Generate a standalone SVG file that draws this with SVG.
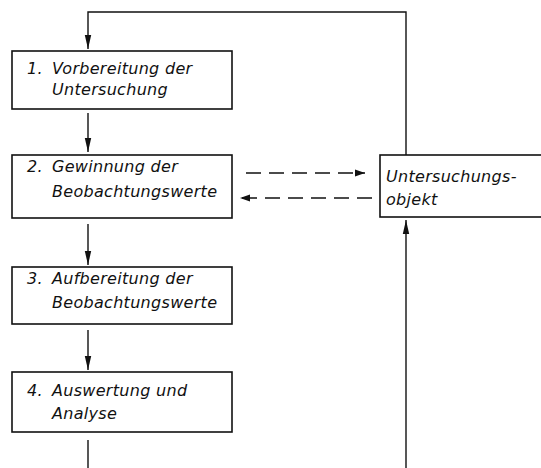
<svg xmlns="http://www.w3.org/2000/svg" width="541" height="468" viewBox="0 0 541 468">
<style>
.box{fill:#fff;stroke:#111;stroke-width:1.6}
.ln{fill:none;stroke:#111;stroke-width:1.4}
.dash{fill:none;stroke:#111;stroke-width:1.4;stroke-dasharray:15,8}
text{font-family:"DejaVu Sans","Liberation Sans",sans-serif;font-style:italic;font-size:16px;letter-spacing:0.3px;fill:#111}
</style>
<defs>
<marker id="ah" viewBox="0 0 10 10" refX="10" refY="5" markerWidth="10" markerHeight="10" markerUnits="userSpaceOnUse" orient="auto">
<path d="M0,1.5 L10,5 L0,8.5 Z" fill="#111"/>
</marker>
<marker id="ahL" viewBox="0 0 14 10" refX="14" refY="5" markerWidth="14" markerHeight="10" markerUnits="userSpaceOnUse" orient="auto">
<path d="M0,1.8 L14,5 L0,8.2 Z" fill="#111"/>
</marker>
</defs>
<g id="connectors">
<polyline class="ln" points="406,155 406,12 88,12 88,49" marker-end="url(#ahL)"/>
<line class="ln" x1="88" y1="113" x2="88" y2="152" marker-end="url(#ahL)"/>
<line class="ln" x1="88" y1="224" x2="88" y2="265" marker-end="url(#ahL)"/>
<line class="ln" x1="88" y1="330" x2="88" y2="370" marker-end="url(#ahL)"/>
<line class="ln" x1="88" y1="440" x2="88" y2="468"/>
<line class="ln" x1="406" y1="468" x2="406" y2="220" marker-end="url(#ahL)"/>
<line class="dash" x1="246" y1="173" x2="365" y2="173" marker-end="url(#ah)"/>
<line class="dash" x1="372" y1="198" x2="240" y2="198" marker-end="url(#ah)"/>
</g>
<g id="n1">
<rect class="box" x="12" y="51" width="220" height="58"/>
<text x="27" y="74">1.</text><text x="52" y="74">Vorbereitung der</text>
<text x="52" y="95">Untersuchung</text>
</g>
<g id="n2">
<rect class="box" x="12" y="155" width="220" height="63"/>
<text x="27" y="172">2.</text><text x="52" y="172">Gewinnung der</text>
<text x="52" y="197">Beobachtungswerte</text>
</g>
<g id="n3">
<rect class="box" x="12" y="267" width="220" height="57"/>
<text x="27" y="284">3.</text><text x="52" y="284">Aufbereitung der</text>
<text x="52" y="308">Beobachtungswerte</text>
</g>
<g id="n4">
<rect class="box" x="12" y="372" width="220" height="60"/>
<text x="27" y="396">4.</text><text x="52" y="396">Auswertung und</text>
<text x="52" y="419">Analyse</text>
</g>
<g id="n5">
<rect class="box" x="380" y="155" width="170" height="62"/>
<text x="386" y="182">Untersuchungs-</text>
<text x="386" y="205">objekt</text>
</g>
</svg>
